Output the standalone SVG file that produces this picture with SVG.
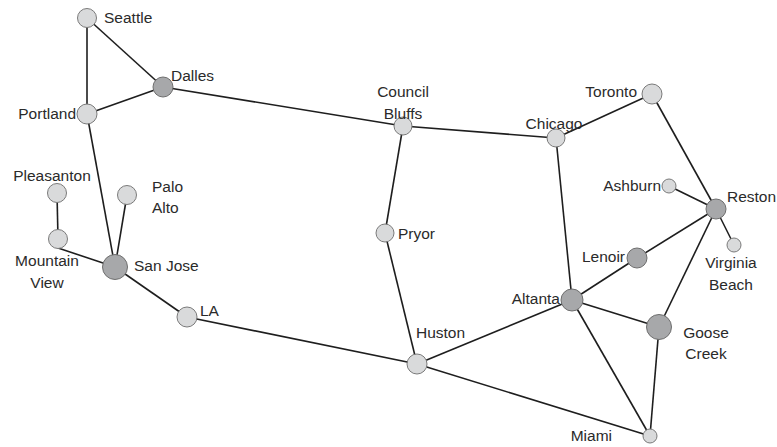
<svg xmlns="http://www.w3.org/2000/svg" width="777" height="447" viewBox="0 0 777 447">
  <style>
    .edge { stroke: #1e1e1e; stroke-width: 1.6; fill: none; }
    .light { fill: #d9dadb; stroke: #7a7a7a; stroke-width: 1; }
    .dark { fill: #a7a8aa; stroke: #6e6e6e; stroke-width: 1; }
    text { font-family: "Liberation Sans", Arial, sans-serif; font-size: 15.5px; fill: #2a2a2a; }
    .mid { text-anchor: middle; }
    .end { text-anchor: end; }
  </style>
  <rect width="777" height="447" fill="#ffffff"/>

  <g id="connectors">
    <line class="edge" x1="87" y1="18" x2="87" y2="114"/>
    <line class="edge" x1="87" y1="18" x2="163" y2="87"/>
    <line class="edge" x1="87" y1="114" x2="163" y2="87"/>
    <line class="edge" x1="163" y1="87" x2="403" y2="126"/>
    <line class="edge" x1="403" y1="126" x2="556" y2="138"/>
    <line class="edge" x1="403" y1="126" x2="385" y2="233"/>
    <line class="edge" x1="385" y1="233" x2="417" y2="364"/>
    <line class="edge" x1="556" y1="138" x2="652" y2="94"/>
    <line class="edge" x1="556" y1="138" x2="572" y2="300"/>
    <line class="edge" x1="652" y1="94" x2="716" y2="209"/>
    <line class="edge" x1="669" y1="186" x2="716" y2="209"/>
    <line class="edge" x1="716" y1="209" x2="734" y2="245"/>
    <line class="edge" x1="716" y1="209" x2="637" y2="258"/>
    <line class="edge" x1="716" y1="209" x2="659" y2="327"/>
    <line class="edge" x1="637" y1="258" x2="572" y2="300"/>
    <line class="edge" x1="572" y1="300" x2="417" y2="364"/>
    <line class="edge" x1="572" y1="300" x2="659" y2="327"/>
    <line class="edge" x1="572" y1="300" x2="650" y2="436"/>
    <line class="edge" x1="659" y1="327" x2="650" y2="436"/>
    <line class="edge" x1="417" y1="364" x2="650" y2="436"/>
    <line class="edge" x1="417" y1="364" x2="187" y2="317"/>
    <line class="edge" x1="187" y1="317" x2="115" y2="267"/>
    <line class="edge" x1="115" y1="267" x2="87" y2="114"/>
    <line class="edge" x1="115" y1="267" x2="127" y2="195"/>
    <line class="edge" x1="115" y1="267" x2="58" y2="248"/>
    <line class="edge" x1="58" y1="239" x2="57" y2="193"/>
  </g>

  <g id="seattle"><circle class="light" cx="87" cy="18" r="9.5"/><text x="104" y="23">Seattle</text></g>
  <g id="dalles"><circle class="dark" cx="163" cy="87" r="10"/><text x="171" y="81">Dalles</text></g>
  <g id="portland"><circle class="light" cx="87" cy="114" r="10"/><text class="end" x="76" y="119">Portland</text></g>
  <g id="pleasanton"><circle class="light" cx="57" cy="193" r="9.5"/><text class="mid" x="52" y="181">Pleasanton</text></g>
  <g id="palo-alto"><circle class="light" cx="127" cy="195" r="9.5"/><text x="152" y="192">Palo</text><text x="152" y="213">Alto</text></g>
  <g id="mountain-view"><circle class="light" cx="58" cy="239" r="9.5"/><text class="mid" x="47" y="266">Mountain</text><text class="mid" x="47" y="288">View</text></g>
  <g id="san-jose"><circle class="dark" cx="115" cy="267" r="12.5"/><text x="134" y="271">San Jose</text></g>
  <g id="la"><circle class="light" cx="187" cy="317" r="10"/><text x="200" y="316">LA</text></g>
  <g id="council-bluffs"><circle class="light" cx="403" cy="126" r="9"/><text class="mid" x="403" y="97">Council</text><text class="mid" x="403" y="119">Bluffs</text></g>
  <g id="pryor"><circle class="light" cx="385" cy="233" r="9"/><text x="398" y="239">Pryor</text></g>
  <g id="chicago"><circle class="light" cx="556" cy="138" r="9"/><text class="mid" x="554" y="129">Chicago</text></g>
  <g id="toronto"><circle class="light" cx="652" cy="94" r="10"/><text class="end" x="637" y="97">Toronto</text></g>
  <g id="ashburn"><circle class="light" cx="669" cy="186" r="7"/><text class="end" x="661" y="191">Ashburn</text></g>
  <g id="reston"><circle class="dark" cx="716" cy="209" r="10"/><text x="727" y="202">Reston</text></g>
  <g id="virginia-beach"><circle class="light" cx="734" cy="245" r="7"/><text class="mid" x="731" y="268">Virginia</text><text class="mid" x="731" y="290">Beach</text></g>
  <g id="lenoir"><circle class="dark" cx="637" cy="258" r="10"/><text class="end" x="625" y="262">Lenoir</text></g>
  <g id="altanta"><circle class="dark" cx="572" cy="300" r="11"/><text class="end" x="560" y="304">Altanta</text></g>
  <g id="goose-creek"><circle class="dark" cx="659" cy="327" r="12.5"/><text class="mid" x="706" y="338">Goose</text><text class="mid" x="706" y="359">Creek</text></g>
  <g id="huston"><circle class="light" cx="417" cy="364" r="10"/><text x="416" y="338">Huston</text></g>
  <g id="miami"><circle class="light" cx="650" cy="436" r="7"/><text class="end" x="612" y="441">Miami</text></g>
</svg>
